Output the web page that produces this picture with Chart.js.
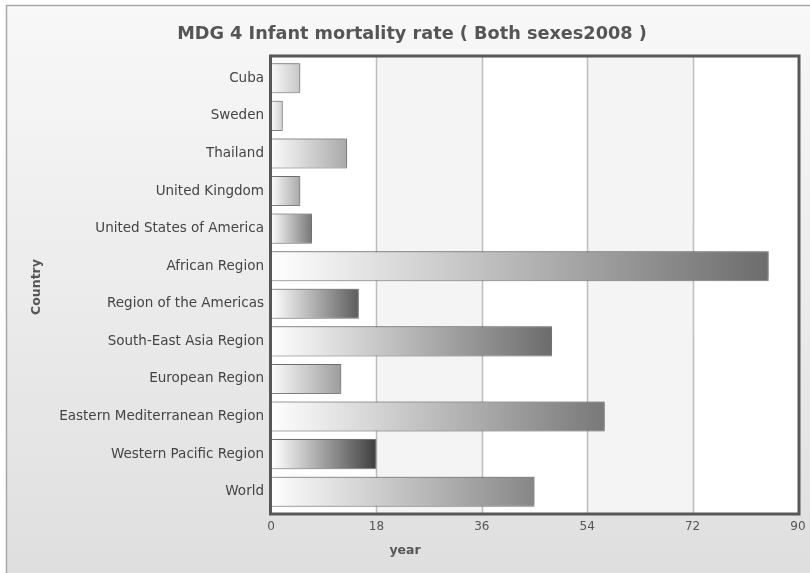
<!DOCTYPE html>
<html>
<head>
<meta charset="utf-8">
<script src="https://cdn.jsdelivr.net/npm/chart.js@4/dist/chart.umd.min.js"></script>
<style>
  html, body { margin: 0; padding: 0; background: #ffffff; }
  #wrap { width: 810px; height: 573px; position: relative; }
</style>
</head>
<body>
<div id="wrap"><canvas id="c" width="810" height="573"></canvas></div>
<script>
// Infant mortality rate per 1000 live births, both sexes, 2008
const countries = [
  'Cuba', 'Sweden', 'Thailand', 'United Kingdom', 'United States of America',
  'African Region', 'Region of the Americas', 'South-East Asia Region',
  'European Region', 'Eastern Mediterranean Region', 'Western Pacific Region', 'World'
];
const rates = [5, 2, 13, 5, 7, 85, 15, 48, 12, 57, 18, 45];
const xTicks = [0, 18, 36, 54, 72, 90];

// dark end of each bar's white-to-grey gradient
const barTones = [
  '#c6c6c6', '#cfcfcf', '#a9a9a9', '#a8a8a8', '#767676', '#6c6c6c',
  '#5c5c5c', '#6c6c6c', '#9c9c9c', '#787878', '#3e3e3e', '#868686'
];

const TITLE = 'MDG 4 Infant mortality rate ( Both sexes2008 )';
const FONT = '"DejaVu Sans", Verdana, sans-serif';

// page background, alternating bands and axis titles
const framePlugin = {
  id: 'frame',
  beforeDraw(chart) {
    const ctx = chart.ctx;
    ctx.save();
    ctx.fillStyle = '#ffffff';
    ctx.fillRect(0, 0, chart.width, chart.height);
    const g = ctx.createLinearGradient(0, 5, 0, chart.height);
    g.addColorStop(0, '#f8f8f8');
    g.addColorStop(1, '#dfdfdf');
    ctx.fillStyle = g;
    ctx.fillRect(6, 5, chart.width - 6, chart.height - 5);
    ctx.strokeStyle = '#a8a8a8';
    ctx.lineWidth = 1.5;
    ctx.beginPath();
    ctx.moveTo(6.5, chart.height);
    ctx.lineTo(6.5, 5.5);
    ctx.lineTo(chart.width, 5.5);
    ctx.stroke();

    // title
    ctx.fillStyle = '#555555';
    ctx.font = 'bold 17.7px ' + FONT;
    ctx.textAlign = 'center';
    ctx.textBaseline = 'middle';
    ctx.fillText(TITLE, 412, 34);

    // axis titles
    ctx.font = 'bold 12.5px ' + FONT;
    ctx.fillText('year', 405, 551);
    ctx.translate(37, 287);
    ctx.rotate(-Math.PI / 2);
    ctx.fillText('Country', 0, 0);
    ctx.restore();
  },
  beforeDatasetsDraw(chart) {
    const ctx = chart.ctx;
    const a = chart.chartArea;
    const x = chart.scales.x;
    const top = a.top - 3.5, bottom = a.bottom + 3.5;
    ctx.save();
    for (let i = 0; i < xTicks.length - 1; i++) {
      const l = x.getPixelForValue(xTicks[i]);
      const r = x.getPixelForValue(xTicks[i + 1]);
      ctx.fillStyle = i % 2 ? '#f4f4f4' : '#ffffff';
      ctx.fillRect(l, top, r - l, bottom - top);
    }
    ctx.strokeStyle = '#bdbdbd';
    ctx.lineWidth = 1.5;
    for (let i = 1; i < xTicks.length - 1; i++) {
      const px = Math.round(x.getPixelForValue(xTicks[i])) + 0.5;
      ctx.beginPath();
      ctx.moveTo(px, top);
      ctx.lineTo(px, bottom);
      ctx.stroke();
    }
    ctx.restore();
  },
  afterDatasetsDraw(chart) {
    const ctx = chart.ctx;
    const a = chart.chartArea;
    ctx.save();
    ctx.strokeStyle = '#575757';
    ctx.lineWidth = 3;
    ctx.strokeRect(a.left - 0.5, a.top - 3.5, a.right - a.left + 1.5, a.bottom - a.top + 7);
    ctx.restore();
  },
  beforeDatasetDraw(chart) {
    const ctx = chart.ctx;
    ctx.save();
    ctx.shadowColor = 'rgba(0,0,0,0.35)';
    ctx.shadowBlur = 4;
    ctx.shadowOffsetX = 1;
    ctx.shadowOffsetY = -1;
  },
  afterDatasetDraw(chart) {
    chart.ctx.restore();
  }
};

function barFill(c) {
  const chart = c.chart;
  if (!chart.chartArea || c.dataIndex === undefined) return '#999999';
  const x = chart.scales.x;
  const x0 = x.getPixelForValue(0);
  const x1 = x.getPixelForValue(rates[c.dataIndex]);
  const g = chart.ctx.createLinearGradient(x0, 0, Math.max(x1, x0 + 1), 0);
  g.addColorStop(0, '#ffffff');
  g.addColorStop(0.06, '#f6f6f6');
  g.addColorStop(1, barTones[c.dataIndex]);
  return g;
}

new Chart(document.getElementById('c'), {
  type: 'bar',
  data: {
    labels: countries,
    datasets: [{
      data: rates,
      backgroundColor: barFill,
      borderColor: '#8a8a8a',
      borderWidth: 1,
      borderSkipped: 'left',
      categoryPercentage: 1,
      barPercentage: 0.8
    }]
  },
  plugins: [framePlugin],
  options: {
    indexAxis: 'y',
    responsive: false,
    animation: false,
    devicePixelRatio: 1,
    layout: { padding: { top: 59.5, right: 12, bottom: 32.5, left: 0 } },
    plugins: {
      legend: { display: false },
      title: { display: false },
      tooltip: { enabled: false }
    },
    scales: {
      x: {
        type: 'linear',
        min: 0,
        max: 90,
        afterBuildTicks(s) { s.ticks = xTicks.map(v => ({ value: v })); },
        afterFit(s) { s.height = 30; s.paddingRight = 0; s.paddingLeft = 0; },
        grid: { display: false, drawTicks: false },
        border: { display: false },
        ticks: { color: '#555555', padding: 9, font: { family: FONT, size: 12 } }
      },
      y: {
        afterFit(s) { s.width = 271; },
        grid: { display: false, drawTicks: false },
        border: { display: false },
        ticks: { color: '#444444', padding: 7, font: { family: FONT, size: 13.5 } }
      }
    }
  }
});
</script>
</body>
</html>
